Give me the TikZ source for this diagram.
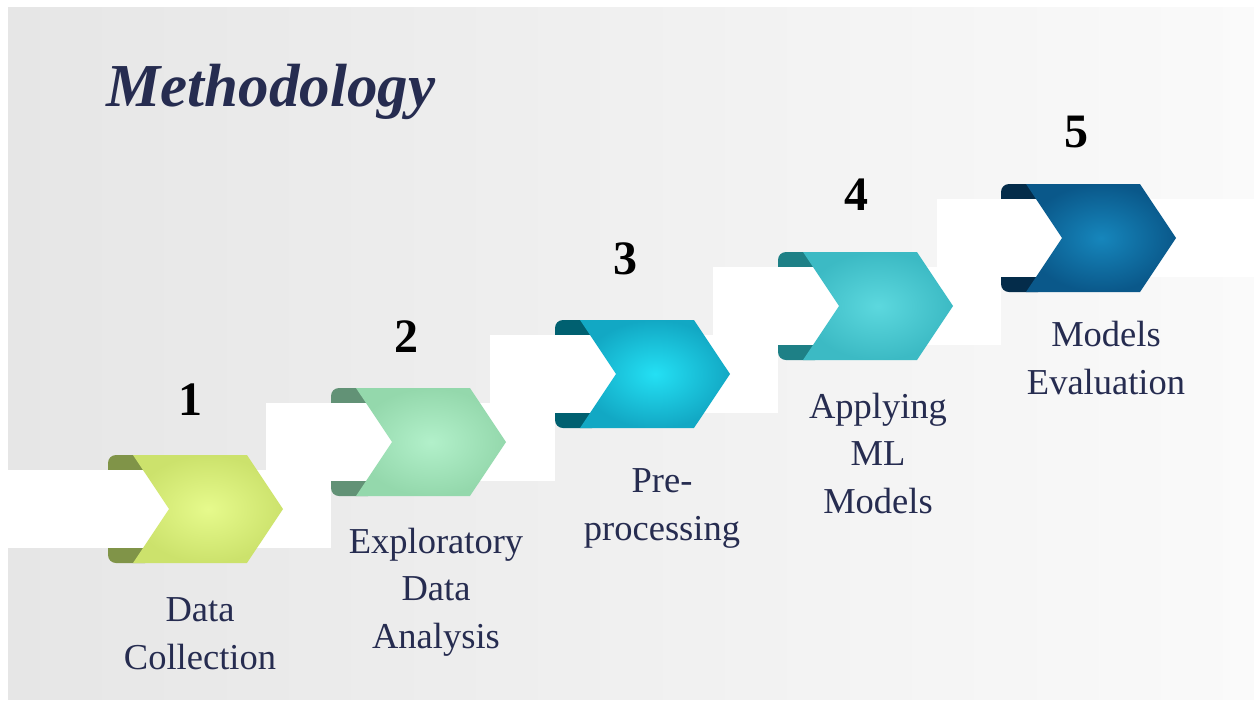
\documentclass[tikz,border=0pt]{standalone}
\usepackage{fontspec}
\setmainfont{Liberation Serif}
\usetikzlibrary{shapes.symbols,positioning}
\definecolor{MethNavy}{RGB}{38,44,80}
\definecolor{MethBgLeft}{RGB}{230,230,230}
\definecolor{MethBgRight}{RGB}{250,250,250}
\definecolor{MethLimeIn}{RGB}{230,250,140}
\definecolor{MethLimeOut}{RGB}{204,226,108}
\definecolor{MethLimeTab}{RGB}{128,148,72}
\definecolor{MethMintIn}{RGB}{178,240,202}
\definecolor{MethMintOut}{RGB}{148,216,172}
\definecolor{MethMintTab}{RGB}{98,146,118}
\definecolor{MethCyanIn}{RGB}{36,224,244}
\definecolor{MethCyanOut}{RGB}{18,168,196}
\definecolor{MethCyanTab}{RGB}{0,96,112}
\definecolor{MethTealIn}{RGB}{92,216,222}
\definecolor{MethTealOut}{RGB}{60,186,196}
\definecolor{MethTealTab}{RGB}{30,128,134}
\definecolor{MethBlueIn}{RGB}{22,134,188}
\definecolor{MethBlueOut}{RGB}{10,88,138}
\definecolor{MethBlueTab}{RGB}{4,44,74}
\tikzset{
  meth/chevron/.style={
    signal,
    signal from=west,
    signal to=east,
    signal pointer angle=112.6,
    minimum width=150pt,
    minimum height=108pt,
    inner sep=0pt,
    draw=none
  },
  meth/band/.style={fill=white, draw=none},
  meth/tab/.style={rounded corners=8pt, draw=none},
  meth/num/.style={font=\fontsize{48}{48}\selectfont\bfseries, text=black},
  meth/label/.style={font=\fontsize{36.5}{47.5}\selectfont, text=MethNavy, align=center},
  meth/title/.style={font=\fontsize{61}{62}\selectfont\bfseries\itshape, text=MethNavy}
}

\begin{document}
\begin{tikzpicture}[x=1pt,y=-1pt]
  \fill[white] (0,0) rectangle (1254,705);
  \shade[left color=MethBgLeft, right color=MethBgRight] (8,7) rectangle (1254,699);
  \useasboundingbox (0,0) rectangle (1254,705);

  % folded ends behind each step
  \fill[meth/tab, fill=MethLimeTab] (108,455) rectangle (153,563);
  \fill[meth/tab, fill=MethMintTab] (331,388) rectangle (376,496);
  \fill[meth/tab, fill=MethCyanTab] (555,320) rectangle (600,428);
  \fill[meth/tab, fill=MethTealTab] (778,252) rectangle (823,360);
  \fill[meth/tab, fill=MethBlueTab] (1001,184) rectangle (1046,292);

  % white staircase
  \fill[meth/band] (8,470) rectangle (331,548);
  \fill[meth/band] (266,403) rectangle (555,481);
  \fill[meth/band] (490,335) rectangle (778,413);
  \fill[meth/band] (713,267) rectangle (1001,345);
  \fill[meth/band] (937,199) rectangle (1254,277);

  \node[meth/chevron, inner color=MethLimeIn, outer color=MethLimeOut] (s1) at (208,509) {};
  \node[meth/chevron, inner color=MethMintIn, outer color=MethMintOut] (s2) at (431,442) {};
  \node[meth/chevron, inner color=MethCyanIn, outer color=MethCyanOut] (s3) at (655,374) {};
  \node[meth/chevron, inner color=MethTealIn, outer color=MethTealOut] (s4) at (878,306) {};
  \node[meth/chevron, inner color=MethBlueIn, outer color=MethBlueOut] (s5) at (1101,238) {};

  \node[meth/num, anchor=base] (n1) at (190,415) {1};
  \node[meth/num, anchor=base] (n2) at (406,352) {2};
  \node[meth/num, anchor=base] (n3) at (625,274) {3};
  \node[meth/num, anchor=base] (n4) at (856,210) {4};
  \node[meth/num, anchor=base] (n5) at (1076,147) {5};

  % base sits on the last line of each label
  \node[meth/label, anchor=base] (l1) at (200,669) {Data\\Collection};
  \node[meth/label, anchor=base] (l2) at (436,648) {Exploratory\\Data\\Analysis};
  \node[meth/label, anchor=base] (l3) at (662,540) {Pre-\\processing};
  \node[meth/label, anchor=base] (l4) at (878,513) {Applying\\ML\\Models};
  \node[meth/label, anchor=base] (l5) at (1106,394) {Models\\Evaluation};

  \node[meth/title, anchor=base west] (title) at (103,106) {Methodology};
\end{tikzpicture}
\end{document}
